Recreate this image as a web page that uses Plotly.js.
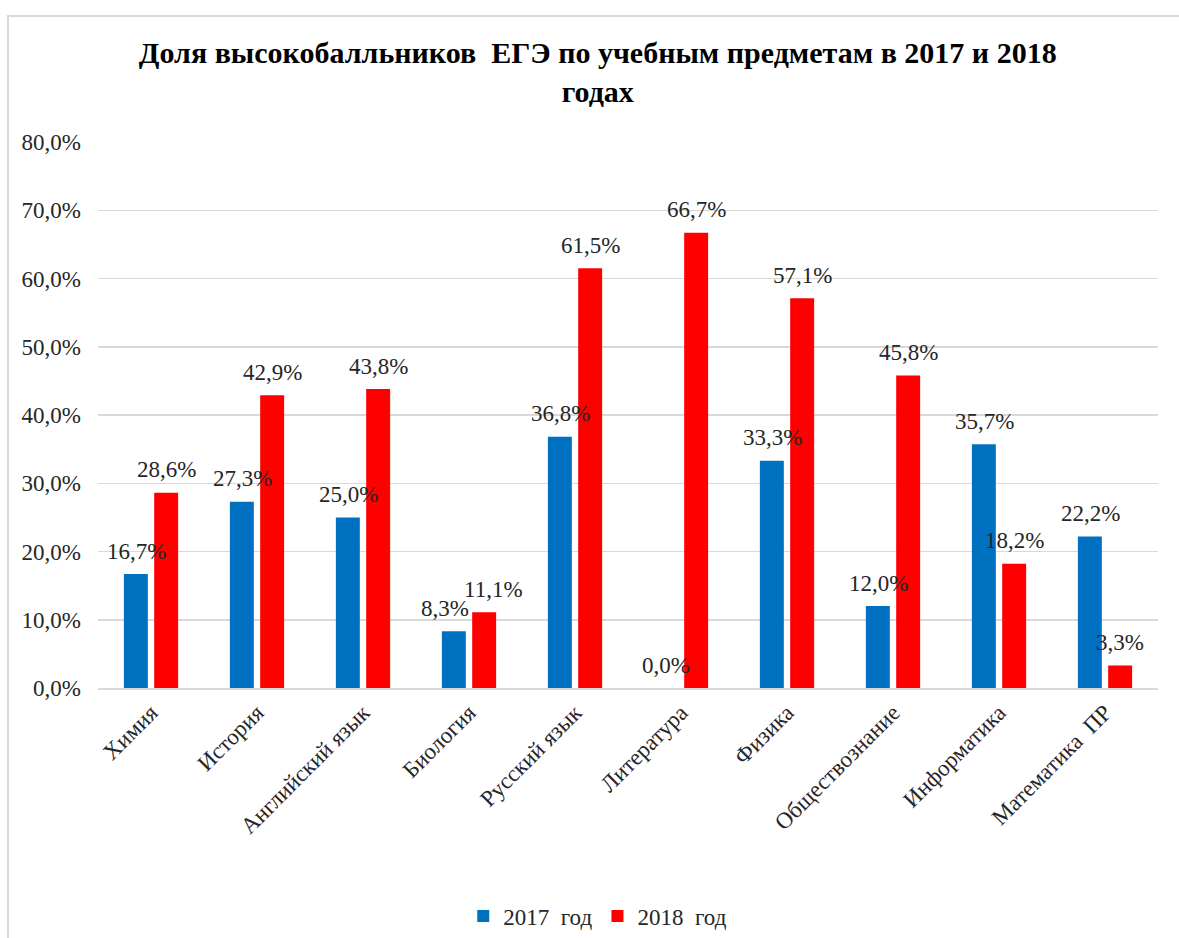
<!DOCTYPE html>
<html>
<head>
<meta charset="utf-8">
<script src="https://cdn.plot.ly/plotly-3.0.1.min.js"></script>
<style>
  html, body { margin: 0; padding: 0; background: #fff; }
  #chart { width: 1179px; height: 938px; }
  #frame { position: fixed; left: 7px; top: 15px; width: 1200px; height: 960px;
           border-left: 2px solid #d9d9d9; border-top: 2px solid #d9d9d9; pointer-events: none; }
</style>
</head>
<body>
<div id="chart"></div>
<div id="frame"></div>
<script>
const categories = ["Химия", "История", "Английский язык", "Биология", "Русский язык",
                    "Литература", "Физика", "Обществознание", "Информатика", "Математика  ПР"];
const values2017 = [16.7, 27.3, 25.0, 8.3, 36.8, 0.0, 33.3, 12.0, 35.7, 22.2];
const values2018 = [28.6, 42.9, 43.8, 11.1, 61.5, 66.7, 57.1, 45.8, 18.2, 3.3];
const seriesNames = ["2017  год", "2018  год"];
const yTicks = [0, 10, 20, 30, 40, 50, 60, 70, 80];

const FONT = "Liberation Serif, Times New Roman, DejaVu Serif, serif";
const fmt = v => v.toFixed(1).replace('.', ',') + '%';

const traces = [
  { type: 'bar', name: seriesNames[0], x: categories, y: values2017,
    marker: { color: '#0070C0' }, hoverinfo: 'skip' },
  { type: 'bar', name: seriesNames[1], x: categories, y: values2018,
    marker: { color: '#FF0000' }, hoverinfo: 'skip' }
];

// data labels above bars; pairs with nearly equal heights are pushed apart to avoid collisions
const annotations = [];
categories.forEach((c, i) => {
  const close = Math.abs(values2018[i] - values2017[i]) < 5;
  const base = 15, extra = close ? 9 : 0;
  annotations.push({ x: c, y: values2017[i], text: fmt(values2017[i]), xref: 'x', yref: 'y',
    showarrow: false, xshift: -(base + extra), yshift: 23, yanchor: 'middle',
    font: { family: FONT, size: 23, color: '#262626' } });
  annotations.push({ x: c, y: values2018[i], text: fmt(values2018[i]), xref: 'x', yref: 'y',
    showarrow: false, xshift: base + extra, yshift: 23, yanchor: 'middle',
    font: { family: FONT, size: 23, color: '#262626' } });
});

const layout = {
  width: 1179, height: 938,
  margin: { l: 98, r: 21, t: 142, b: 250 },
  paper_bgcolor: '#fff', plot_bgcolor: '#fff',
  separators: ', ',
  font: { family: FONT, size: 22, color: '#262626' },
  title: {
    text: '<b>Доля высокобалльников  ЕГЭ по учебным предметам в 2017 и 2018<br>годах</b>',
    font: { family: FONT, size: 30, color: '#000' },
    x: 0.507, xanchor: 'center', xref: 'container',
    y: 1 - 63 / 938, yanchor: 'top', yref: 'container'
  },
  barmode: 'group',
  bargap: 0.428,
  bargroupgap: 0.21,
  xaxis: {
    type: 'category', tickangle: -45, showgrid: false,
    showline: true, linecolor: '#d9d9d9', linewidth: 2,
    ticks: '', tickfont: { family: FONT, size: 23, color: '#262626' },
    automargin: false
  },
  yaxis: {
    range: [0, 80], tickmode: 'array', tickvals: yTicks, ticktext: yTicks.map(fmt),
    showgrid: true, gridcolor: '#d9d9d9', gridwidth: 1.5,
    zeroline: false, showline: false, ticks: '',
    ticklabelstandoff: 16,
    tickfont: { family: FONT, size: 23, color: '#262626' },
    automargin: false
  },
  showlegend: true,
  legend: {
    orientation: 'h', x: 0.507, xanchor: 'center', xref: 'container',
    y: 1 - 916 / 938, yanchor: 'middle', yref: 'container',
    font: { family: FONT, size: 23, color: '#262626' }, traceorder: 'normal'
  },
  annotations: annotations
};

Plotly.newPlot('chart', traces, layout, { staticPlot: true, displayModeBar: false });
</script>
</body>
</html>
